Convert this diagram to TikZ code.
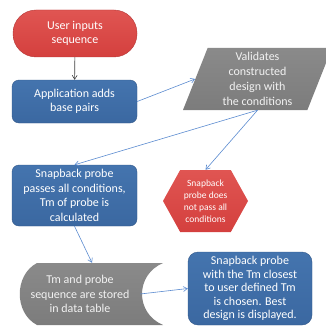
\documentclass[tikz,border=0pt]{standalone}
\usepackage{fontspec}
\setmainfont{Carlito}
\usetikzlibrary{arrows.meta,calc,positioning,shapes.geometric,shapes.symbols}
\definecolor{flowred}{HTML}{D4403E}
\definecolor{flowredtop}{HTML}{E05552}
\definecolor{flowblue}{HTML}{3B68A1}
\definecolor{flowbluetop}{HTML}{4474AE}
\definecolor{flowgray}{HTML}{7C7C7C}
\definecolor{flowgraytop}{HTML}{8A8A8A}
\definecolor{linkblue}{HTML}{5B8BD0}
\definecolor{paletext}{HTML}{F2F2F2}

\begin{document}
\begin{tikzpicture}[x=1pt, y=-1pt, >={Straight Barb[length=4pt,width=5pt]},
  bluebox/.style={rectangle, rounded corners=7pt, top color=flowbluetop, bottom color=flowblue,
    draw=flowblue!85!black, line width=0.4pt, text=white, align=center, inner sep=1pt,
    font=\fontsize{12}{14.6}\selectfont},
  link/.style={->, linkblue, line width=0.6pt}]
  \useasboundingbox (0,0) rectangle (325,329);
  \node[bluebox, top color=flowredtop, bottom color=flowred, draw=flowred!85!black,
    rounded corners=23pt, minimum width=124pt, minimum height=47pt] (start) at (75,33.5)
    {User inputs\\sequence};
  \node[bluebox, minimum width=125pt, minimum height=43pt] (app) at (74.5,101.5)
    {Application adds\\base pairs};
  \node[trapezium, trapezium left angle=65, trapezium right angle=115, trapezium stretches body,
    top color=flowgraytop, bottom color=flowgray, minimum width=149pt, minimum height=62pt,
    inner sep=0pt, text=paletext, align=center, font=\fontsize{12}{14.8}\selectfont]
    (check) at (257.5,79) {Validates\\constructed\\design with\\the conditions};
  \node[bluebox, minimum width=125pt, minimum height=61pt] (pass) at (74.5,195.5)
    {Snapback probe\\passes all conditions,\\Tm of probe is\\calculated};
  \node[signal, signal to=east and west, signal pointer angle=122, top color=flowredtop,
    bottom color=flowred, minimum width=85pt, minimum height=62pt, inner sep=0pt,
    text=white, align=center, font=\fontsize{9.5}{12}\selectfont] (fail) at (205.5,201)
    {Snapback\\probe does\\not pass all\\conditions};
  \shade[top color=flowgraytop, bottom color=flowgray] (37,263) -- (163,263)
    .. controls (135,275) and (135,313) .. (163,325) -- (37,325)
    .. controls (14,313) and (14,275) .. (37,263);
  \node[minimum width=120pt, minimum height=62pt, inner sep=0pt, text=paletext, align=center,
    font=\fontsize{12}{14.6}\selectfont] (store) at (80,294)
    {Tm and probe\\sequence are stored\\in data table};
  \node[bluebox, rounded corners=10pt, minimum width=124pt, minimum height=73pt,
    font=\fontsize{12}{13.6}\selectfont] (best) at (250,288.5)
    {Snapback probe\\with the Tm closest\\to user defined Tm\\is chosen. Best\\design is displayed.};
  \draw[->, black!75, line width=0.6pt] (start) -- (app);
  \draw[link] (app.east) -- (check.west);
  \draw[link] (check.south) -- (pass.north);
  \draw[link] (check.south) -- (fail.north);
  \draw[link] (pass.south) -- ([xshift=12pt]store.north);
  \draw[link] (store.east) -- (best.west);
\end{tikzpicture}
\end{document}
